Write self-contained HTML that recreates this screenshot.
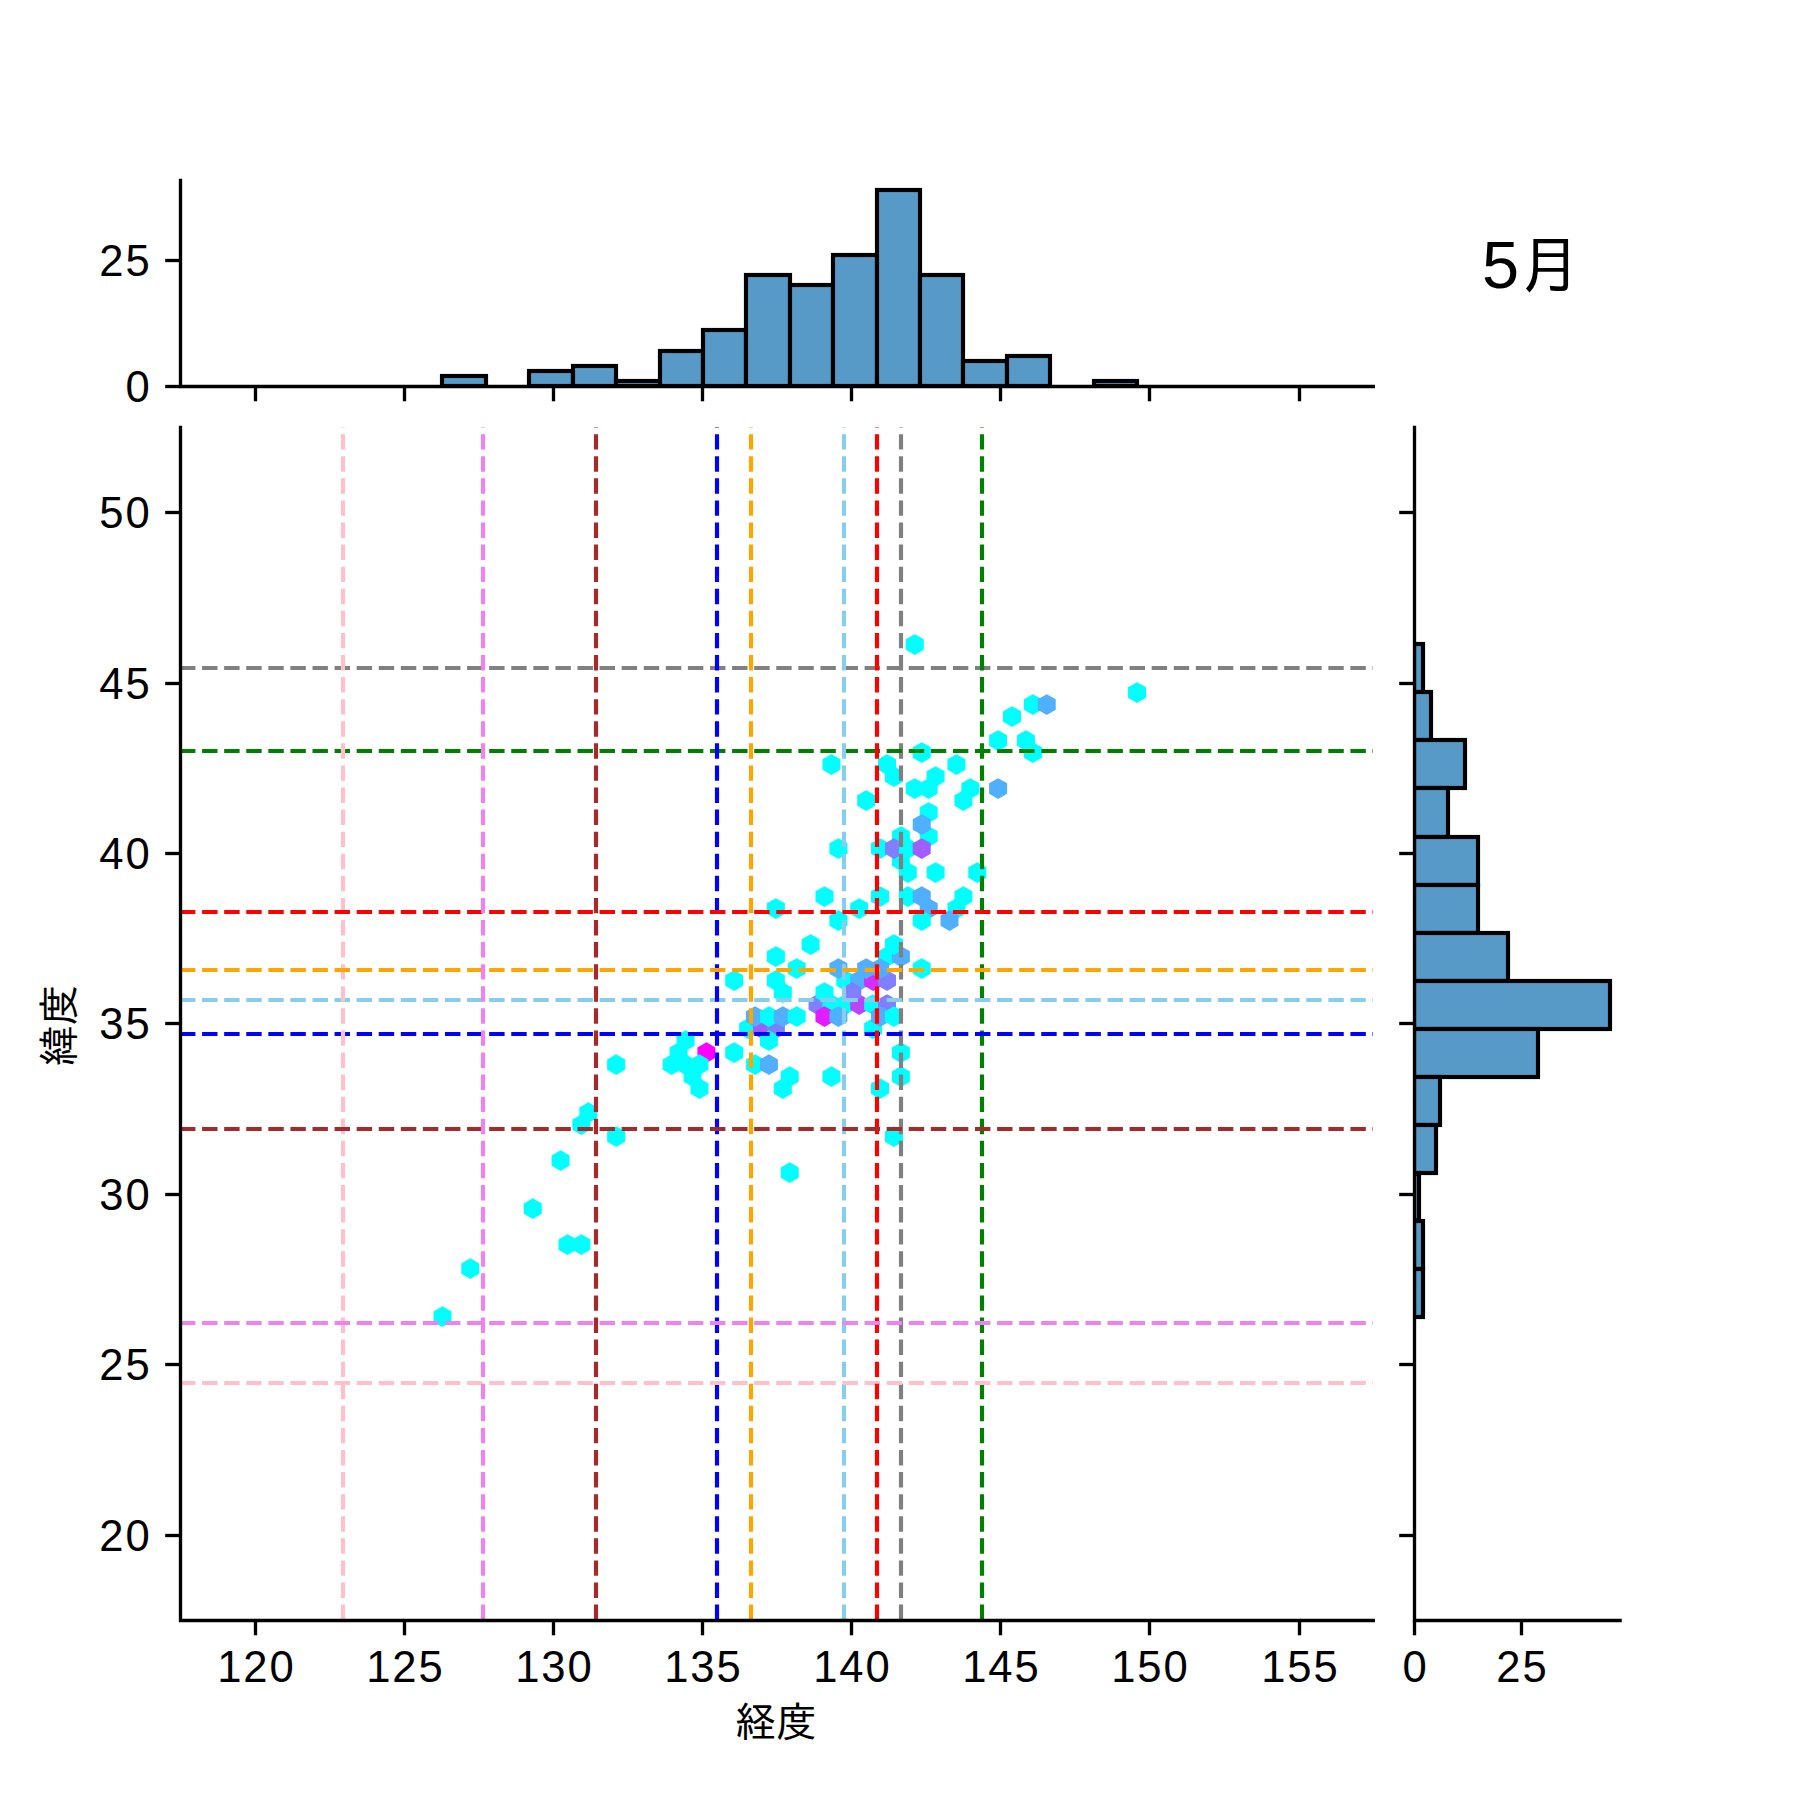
<!DOCTYPE html>
<html lang="ja">
<head>
<meta charset="utf-8">
<title>5月 経度・緯度</title>
<style>
html,body{margin:0;padding:0;background:#fff;}
body{width:1800px;height:1800px;overflow:hidden;font-family:"Liberation Sans", "IPAGothic", sans-serif;}
svg{display:block;}
</style>
</head>
<body>
<svg width="1800" height="1800" viewBox="0 0 1800 1800">
<rect width="1800" height="1800" fill="#fff"/>
<g id="hexbin">
<polygon points="451.50,1321.82 451.50,1311.38 442.50,1306.15 433.50,1311.38 433.50,1321.82 442.50,1327.05" fill="#00ffff"/>
<polygon points="479.28,1273.82 479.28,1263.38 470.28,1258.15 461.28,1263.38 461.28,1273.82 470.28,1279.05" fill="#00ffff"/>
<polygon points="576.52,1249.82 576.52,1239.38 567.52,1234.15 558.52,1239.38 558.52,1249.82 567.52,1255.05" fill="#00ffff"/>
<polygon points="590.41,1249.82 590.41,1239.38 581.41,1234.15 572.41,1239.38 572.41,1249.82 581.41,1255.05" fill="#00ffff"/>
<polygon points="590.41,1129.82 590.41,1119.38 581.41,1114.15 572.41,1119.38 572.41,1129.82 581.41,1135.05" fill="#00ffff"/>
<polygon points="687.64,1057.82 687.64,1047.38 678.64,1042.15 669.64,1047.38 669.64,1057.82 678.64,1063.05" fill="#00ffff"/>
<polygon points="701.53,1081.82 701.53,1071.38 692.53,1066.15 683.53,1071.38 683.53,1081.82 692.53,1087.05" fill="#00ffff"/>
<polygon points="715.42,1057.82 715.42,1047.38 706.42,1042.15 697.42,1047.38 697.42,1057.82 706.42,1063.05" fill="#ff00ff"/>
<polygon points="743.20,1057.82 743.20,1047.38 734.20,1042.15 725.20,1047.38 725.20,1057.82 734.20,1063.05" fill="#00ffff"/>
<polygon points="743.20,985.82 743.20,975.37 734.20,970.15 725.20,975.37 725.20,985.82 734.20,991.05" fill="#00ffff"/>
<polygon points="757.09,1033.82 757.09,1023.37 748.09,1018.15 739.09,1023.37 739.09,1033.82 748.09,1039.05" fill="#00ffff"/>
<polygon points="770.98,1033.82 770.98,1023.37 761.98,1018.15 752.98,1023.37 752.98,1033.82 761.98,1039.05" fill="#a15eff"/>
<polygon points="784.87,1033.82 784.87,1023.37 775.87,1018.15 766.87,1023.37 766.87,1033.82 775.87,1039.05" fill="#807fff"/>
<polygon points="784.87,985.82 784.87,975.37 775.87,970.15 766.87,975.37 766.87,985.82 775.87,991.05" fill="#00ffff"/>
<polygon points="784.87,961.82 784.87,951.37 775.87,946.15 766.87,951.37 766.87,961.82 775.87,967.05" fill="#00ffff"/>
<polygon points="784.87,913.82 784.87,903.37 775.87,898.15 766.87,903.37 766.87,913.82 775.87,919.05" fill="#00ffff"/>
<polygon points="798.76,1177.82 798.76,1167.38 789.76,1162.15 780.76,1167.38 780.76,1177.82 789.76,1183.05" fill="#00ffff"/>
<polygon points="798.76,1081.82 798.76,1071.38 789.76,1066.15 780.76,1071.38 780.76,1081.82 789.76,1087.05" fill="#00ffff"/>
<polygon points="826.55,1009.82 826.55,999.37 817.55,994.15 808.55,999.37 808.55,1009.82 817.55,1015.05" fill="#807fff"/>
<polygon points="840.44,1081.82 840.44,1071.38 831.44,1066.15 822.44,1071.38 822.44,1081.82 831.44,1087.05" fill="#00ffff"/>
<polygon points="840.44,1009.82 840.44,999.37 831.44,994.15 822.44,999.37 822.44,1009.82 831.44,1015.05" fill="#00ffff"/>
<polygon points="840.44,769.82 840.44,759.37 831.44,754.15 822.44,759.37 822.44,769.82 831.44,775.05" fill="#00ffff"/>
<polygon points="854.33,1009.82 854.33,999.37 845.33,994.15 836.33,999.37 836.33,1009.82 845.33,1015.05" fill="#00ffff"/>
<polygon points="854.33,985.82 854.33,975.37 845.33,970.15 836.33,975.37 836.33,985.82 845.33,991.05" fill="#00ffff"/>
<polygon points="868.22,1009.82 868.22,999.37 859.22,994.15 850.22,999.37 850.22,1009.82 859.22,1015.05" fill="#bb44ff"/>
<polygon points="868.22,985.82 868.22,975.37 859.22,970.15 850.22,975.37 850.22,985.82 859.22,991.05" fill="#50afff"/>
<polygon points="868.22,913.82 868.22,903.37 859.22,898.15 850.22,903.37 850.22,913.82 859.22,919.05" fill="#00ffff"/>
<polygon points="882.11,1033.82 882.11,1023.37 873.11,1018.15 864.11,1023.37 864.11,1033.82 873.11,1039.05" fill="#00ffff"/>
<polygon points="882.11,1009.82 882.11,999.37 873.11,994.15 864.11,999.37 864.11,1009.82 873.11,1015.05" fill="#00ffff"/>
<polygon points="882.11,985.82 882.11,975.37 873.11,970.15 864.11,975.37 864.11,985.82 873.11,991.05" fill="#d02fff"/>
<polygon points="896.00,1009.82 896.00,999.37 887.00,994.15 878.00,999.37 878.00,1009.82 887.00,1015.05" fill="#807fff"/>
<polygon points="896.00,985.82 896.00,975.37 887.00,970.15 878.00,975.37 878.00,985.82 887.00,991.05" fill="#807fff"/>
<polygon points="896.00,961.82 896.00,951.37 887.00,946.15 878.00,951.37 878.00,961.82 887.00,967.05" fill="#00ffff"/>
<polygon points="896.00,769.82 896.00,759.37 887.00,754.15 878.00,759.37 878.00,769.82 887.00,775.05" fill="#00ffff"/>
<polygon points="909.89,1081.82 909.89,1071.38 900.89,1066.15 891.89,1071.38 891.89,1081.82 900.89,1087.05" fill="#00ffff"/>
<polygon points="909.89,1057.82 909.89,1047.38 900.89,1042.15 891.89,1047.38 891.89,1057.82 900.89,1063.05" fill="#00ffff"/>
<polygon points="909.89,961.82 909.89,951.37 900.89,946.15 891.89,951.37 891.89,961.82 900.89,967.05" fill="#50afff"/>
<polygon points="909.89,865.82 909.89,855.37 900.89,850.15 891.89,855.37 891.89,865.82 900.89,871.05" fill="#00ffff"/>
<polygon points="909.89,841.82 909.89,831.37 900.89,826.15 891.89,831.37 891.89,841.82 900.89,847.05" fill="#00ffff"/>
<polygon points="923.78,793.82 923.78,783.37 914.78,778.15 905.78,783.37 905.78,793.82 914.78,799.05" fill="#00ffff"/>
<polygon points="923.78,649.82 923.78,639.37 914.78,634.15 905.78,639.37 905.78,649.82 914.78,655.05" fill="#00ffff"/>
<polygon points="937.67,913.82 937.67,903.37 928.67,898.15 919.67,903.37 919.67,913.82 928.67,919.05" fill="#50afff"/>
<polygon points="937.67,841.82 937.67,831.37 928.67,826.15 919.67,831.37 919.67,841.82 928.67,847.05" fill="#00ffff"/>
<polygon points="937.67,817.82 937.67,807.37 928.67,802.15 919.67,807.37 919.67,817.82 928.67,823.05" fill="#00ffff"/>
<polygon points="937.67,793.82 937.67,783.37 928.67,778.15 919.67,783.37 919.67,793.82 928.67,799.05" fill="#00ffff"/>
<polygon points="965.45,913.82 965.45,903.37 956.45,898.15 947.45,903.37 947.45,913.82 956.45,919.05" fill="#00ffff"/>
<polygon points="965.45,769.82 965.45,759.37 956.45,754.15 947.45,759.37 947.45,769.82 956.45,775.05" fill="#00ffff"/>
<polygon points="979.34,793.82 979.34,783.37 970.34,778.15 961.34,783.37 961.34,793.82 970.34,799.05" fill="#00ffff"/>
<polygon points="1007.12,793.82 1007.12,783.37 998.12,778.15 989.12,783.37 989.12,793.82 998.12,799.05" fill="#50afff"/>
<polygon points="1007.12,745.82 1007.12,735.37 998.12,730.15 989.12,735.37 989.12,745.82 998.12,751.05" fill="#00ffff"/>
<polygon points="1021.01,721.82 1021.01,711.37 1012.01,706.15 1003.01,711.37 1003.01,721.82 1012.01,727.05" fill="#00ffff"/>
<polygon points="1034.91,745.82 1034.91,735.37 1025.91,730.15 1016.91,735.37 1016.91,745.82 1025.91,751.05" fill="#00ffff"/>
<polygon points="1146.03,697.82 1146.03,687.37 1137.03,682.15 1128.03,687.37 1128.03,697.82 1137.03,703.05" fill="#00ffff"/>
<polygon points="541.79,1213.82 541.79,1203.38 532.79,1198.15 523.79,1203.38 523.79,1213.82 532.79,1219.05" fill="#00ffff"/>
<polygon points="569.57,1165.82 569.57,1155.38 560.57,1150.15 551.57,1155.38 551.57,1165.82 560.57,1171.05" fill="#00ffff"/>
<polygon points="597.35,1117.82 597.35,1107.38 588.35,1102.15 579.35,1107.38 579.35,1117.82 588.35,1123.05" fill="#00ffff"/>
<polygon points="625.13,1141.82 625.13,1131.38 616.13,1126.15 607.13,1131.38 607.13,1141.82 616.13,1147.05" fill="#00ffff"/>
<polygon points="625.13,1069.82 625.13,1059.38 616.13,1054.15 607.13,1059.38 607.13,1069.82 616.13,1075.05" fill="#00ffff"/>
<polygon points="680.69,1069.82 680.69,1059.38 671.69,1054.15 662.69,1059.38 662.69,1069.82 671.69,1075.05" fill="#00ffff"/>
<polygon points="694.59,1069.82 694.59,1059.38 685.59,1054.15 676.59,1059.38 676.59,1069.82 685.59,1075.05" fill="#00ffff"/>
<polygon points="694.59,1045.82 694.59,1035.38 685.59,1030.15 676.59,1035.38 676.59,1045.82 685.59,1051.05" fill="#00ffff"/>
<polygon points="708.48,1093.82 708.48,1083.38 699.48,1078.15 690.48,1083.38 690.48,1093.82 699.48,1099.05" fill="#00ffff"/>
<polygon points="708.48,1069.82 708.48,1059.38 699.48,1054.15 690.48,1059.38 690.48,1069.82 699.48,1075.05" fill="#00ffff"/>
<polygon points="764.04,1069.82 764.04,1059.38 755.04,1054.15 746.04,1059.38 746.04,1069.82 755.04,1075.05" fill="#00ffff"/>
<polygon points="764.04,1021.82 764.04,1011.37 755.04,1006.15 746.04,1011.37 746.04,1021.82 755.04,1027.05" fill="#50afff"/>
<polygon points="777.93,1069.82 777.93,1059.38 768.93,1054.15 759.93,1059.38 759.93,1069.82 768.93,1075.05" fill="#50afff"/>
<polygon points="777.93,1045.82 777.93,1035.38 768.93,1030.15 759.93,1035.38 759.93,1045.82 768.93,1051.05" fill="#00ffff"/>
<polygon points="777.93,1021.82 777.93,1011.37 768.93,1006.15 759.93,1011.37 759.93,1021.82 768.93,1027.05" fill="#00ffff"/>
<polygon points="791.82,1093.82 791.82,1083.38 782.82,1078.15 773.82,1083.38 773.82,1093.82 782.82,1099.05" fill="#00ffff"/>
<polygon points="791.82,1021.82 791.82,1011.37 782.82,1006.15 773.82,1011.37 773.82,1021.82 782.82,1027.05" fill="#50afff"/>
<polygon points="791.82,997.82 791.82,987.37 782.82,982.15 773.82,987.37 773.82,997.82 782.82,1003.05" fill="#00ffff"/>
<polygon points="805.71,1021.82 805.71,1011.37 796.71,1006.15 787.71,1011.37 787.71,1021.82 796.71,1027.05" fill="#00ffff"/>
<polygon points="805.71,973.82 805.71,963.37 796.71,958.15 787.71,963.37 787.71,973.82 796.71,979.05" fill="#00ffff"/>
<polygon points="819.60,949.82 819.60,939.37 810.60,934.15 801.60,939.37 801.60,949.82 810.60,955.05" fill="#00ffff"/>
<polygon points="833.49,1021.82 833.49,1011.37 824.49,1006.15 815.49,1011.37 815.49,1021.82 824.49,1027.05" fill="#e21dff"/>
<polygon points="833.49,997.82 833.49,987.37 824.49,982.15 815.49,987.37 815.49,997.82 824.49,1003.05" fill="#00ffff"/>
<polygon points="833.49,901.82 833.49,891.37 824.49,886.15 815.49,891.37 815.49,901.82 824.49,907.05" fill="#00ffff"/>
<polygon points="847.38,1021.82 847.38,1011.37 838.38,1006.15 829.38,1011.37 829.38,1021.82 838.38,1027.05" fill="#50afff"/>
<polygon points="847.38,973.82 847.38,963.37 838.38,958.15 829.38,963.37 829.38,973.82 838.38,979.05" fill="#50afff"/>
<polygon points="847.38,925.82 847.38,915.37 838.38,910.15 829.38,915.37 829.38,925.82 838.38,931.05" fill="#00ffff"/>
<polygon points="847.38,853.82 847.38,843.37 838.38,838.15 829.38,843.37 829.38,853.82 838.38,859.05" fill="#00ffff"/>
<polygon points="861.27,997.82 861.27,987.37 852.27,982.15 843.27,987.37 843.27,997.82 852.27,1003.05" fill="#807fff"/>
<polygon points="875.16,973.82 875.16,963.37 866.16,958.15 857.16,963.37 857.16,973.82 866.16,979.05" fill="#50afff"/>
<polygon points="875.16,805.82 875.16,795.37 866.16,790.15 857.16,795.37 857.16,805.82 866.16,811.05" fill="#00ffff"/>
<polygon points="889.05,1093.82 889.05,1083.38 880.05,1078.15 871.05,1083.38 871.05,1093.82 880.05,1099.05" fill="#00ffff"/>
<polygon points="889.05,1021.82 889.05,1011.37 880.05,1006.15 871.05,1011.37 871.05,1021.82 880.05,1027.05" fill="#50afff"/>
<polygon points="889.05,973.82 889.05,963.37 880.05,958.15 871.05,963.37 871.05,973.82 880.05,979.05" fill="#50afff"/>
<polygon points="889.05,901.82 889.05,891.37 880.05,886.15 871.05,891.37 871.05,901.82 880.05,907.05" fill="#00ffff"/>
<polygon points="889.05,853.82 889.05,843.37 880.05,838.15 871.05,843.37 871.05,853.82 880.05,859.05" fill="#00ffff"/>
<polygon points="902.94,1141.82 902.94,1131.38 893.94,1126.15 884.94,1131.38 884.94,1141.82 893.94,1147.05" fill="#00ffff"/>
<polygon points="902.94,1021.82 902.94,1011.37 893.94,1006.15 884.94,1011.37 884.94,1021.82 893.94,1027.05" fill="#00ffff"/>
<polygon points="902.94,949.82 902.94,939.37 893.94,934.15 884.94,939.37 884.94,949.82 893.94,955.05" fill="#00ffff"/>
<polygon points="902.94,853.82 902.94,843.37 893.94,838.15 884.94,843.37 884.94,853.82 893.94,859.05" fill="#807fff"/>
<polygon points="902.94,781.82 902.94,771.37 893.94,766.15 884.94,771.37 884.94,781.82 893.94,787.05" fill="#00ffff"/>
<polygon points="916.84,901.82 916.84,891.37 907.84,886.15 898.84,891.37 898.84,901.82 907.84,907.05" fill="#00ffff"/>
<polygon points="916.84,877.82 916.84,867.37 907.84,862.15 898.84,867.37 898.84,877.82 907.84,883.05" fill="#00ffff"/>
<polygon points="916.84,853.82 916.84,843.37 907.84,838.15 898.84,843.37 898.84,853.82 907.84,859.05" fill="#00ffff"/>
<polygon points="930.73,973.82 930.73,963.37 921.73,958.15 912.73,963.37 912.73,973.82 921.73,979.05" fill="#00ffff"/>
<polygon points="930.73,925.82 930.73,915.37 921.73,910.15 912.73,915.37 912.73,925.82 921.73,931.05" fill="#00ffff"/>
<polygon points="930.73,901.82 930.73,891.37 921.73,886.15 912.73,891.37 912.73,901.82 921.73,907.05" fill="#50afff"/>
<polygon points="930.73,853.82 930.73,843.37 921.73,838.15 912.73,843.37 912.73,853.82 921.73,859.05" fill="#a15eff"/>
<polygon points="930.73,829.82 930.73,819.37 921.73,814.15 912.73,819.37 912.73,829.82 921.73,835.05" fill="#50afff"/>
<polygon points="930.73,757.82 930.73,747.37 921.73,742.15 912.73,747.37 912.73,757.82 921.73,763.05" fill="#00ffff"/>
<polygon points="944.62,877.82 944.62,867.37 935.62,862.15 926.62,867.37 926.62,877.82 935.62,883.05" fill="#00ffff"/>
<polygon points="944.62,781.82 944.62,771.37 935.62,766.15 926.62,771.37 926.62,781.82 935.62,787.05" fill="#00ffff"/>
<polygon points="958.51,925.82 958.51,915.37 949.51,910.15 940.51,915.37 940.51,925.82 949.51,931.05" fill="#50afff"/>
<polygon points="972.40,901.82 972.40,891.37 963.40,886.15 954.40,891.37 954.40,901.82 963.40,907.05" fill="#00ffff"/>
<polygon points="972.40,805.82 972.40,795.37 963.40,790.15 954.40,795.37 954.40,805.82 963.40,811.05" fill="#00ffff"/>
<polygon points="986.29,877.82 986.29,867.37 977.29,862.15 968.29,867.37 968.29,877.82 977.29,883.05" fill="#00ffff"/>
<polygon points="1041.85,757.82 1041.85,747.37 1032.85,742.15 1023.85,747.37 1023.85,757.82 1032.85,763.05" fill="#00ffff"/>
<polygon points="1041.85,709.82 1041.85,699.37 1032.85,694.15 1023.85,699.37 1023.85,709.82 1032.85,715.05" fill="#00ffff"/>
<polygon points="1055.74,709.82 1055.74,699.37 1046.74,694.15 1037.74,699.37 1037.74,709.82 1046.74,715.05" fill="#50afff"/>
</g>
<g id="reflines" fill="none" stroke-width="4.17" stroke-dasharray="15.4167 6.6667">
<line x1="901" y1="1620" x2="901" y2="427" stroke="#808080"/>
<line x1="180" y1="668" x2="1373" y2="668" stroke="#808080"/>
<line x1="982" y1="1620" x2="982" y2="427" stroke="#008000"/>
<line x1="180" y1="751" x2="1373" y2="751" stroke="#008000"/>
<line x1="844" y1="1620" x2="844" y2="427" stroke="#87ceeb"/>
<line x1="180" y1="1000" x2="1373" y2="1000" stroke="#87ceeb"/>
<line x1="717" y1="1620" x2="717" y2="427" stroke="#0000ff"/>
<line x1="180" y1="1034" x2="1373" y2="1034" stroke="#0000ff"/>
<line x1="343" y1="1620" x2="343" y2="427" stroke="#ffc0cb"/>
<line x1="180" y1="1383" x2="1373" y2="1383" stroke="#ffc0cb"/>
<line x1="751" y1="1620" x2="751" y2="427" stroke="#ffa500"/>
<line x1="180" y1="970" x2="1373" y2="970" stroke="#ffa500"/>
<line x1="877" y1="1620" x2="877" y2="427" stroke="#ff0000"/>
<line x1="180" y1="912" x2="1373" y2="912" stroke="#ff0000"/>
<line x1="596" y1="1620" x2="596" y2="427" stroke="#a52a2a"/>
<line x1="180" y1="1129" x2="1373" y2="1129" stroke="#a52a2a"/>
<line x1="483" y1="1620" x2="483" y2="427" stroke="#ee82ee"/>
<line x1="180" y1="1323" x2="1373" y2="1323" stroke="#ee82ee"/>
</g>
<clipPath id="clipTop"><rect x="180" y="180" width="1193" height="206"/></clipPath>
<clipPath id="clipRight"><rect x="1414" y="427" width="206" height="1193"/></clipPath>
<g id="hist-top" clip-path="url(#clipTop)" fill="#5799c7" stroke="#000" stroke-width="4.17" stroke-linejoin="miter">
<rect x="442" y="376" width="44" height="10"/>
<rect x="486" y="386" width="43" height="0"/>
<rect x="529" y="371" width="44" height="15"/>
<rect x="573" y="366" width="43" height="20"/>
<rect x="616" y="381" width="44" height="5"/>
<rect x="660" y="351" width="43" height="35"/>
<rect x="703" y="330" width="43" height="56"/>
<rect x="746" y="275" width="44" height="111"/>
<rect x="790" y="285" width="43" height="101"/>
<rect x="833" y="255" width="44" height="131"/>
<rect x="877" y="190" width="43" height="196"/>
<rect x="920" y="275" width="43" height="111"/>
<rect x="963" y="361" width="44" height="25"/>
<rect x="1007" y="356" width="43" height="30"/>
<rect x="1050" y="386" width="44" height="0"/>
<rect x="1094" y="381" width="43" height="5"/>
</g>
<g id="hist-right" clip-path="url(#clipRight)" fill="#5799c7" stroke="#000" stroke-width="4.17" stroke-linejoin="miter">
<rect x="1414" y="644" width="9" height="48"/>
<rect x="1414" y="692" width="17" height="48"/>
<rect x="1414" y="740" width="51" height="48"/>
<rect x="1414" y="788" width="34" height="49"/>
<rect x="1414" y="837" width="64" height="48"/>
<rect x="1414" y="885" width="64" height="48"/>
<rect x="1414" y="933" width="94" height="48"/>
<rect x="1414" y="981" width="196" height="48"/>
<rect x="1414" y="1029" width="124" height="48"/>
<rect x="1414" y="1077" width="26" height="48"/>
<rect x="1414" y="1125" width="22" height="48"/>
<rect x="1414" y="1173" width="5" height="48"/>
<rect x="1414" y="1221" width="9" height="48"/>
<rect x="1414" y="1269" width="9" height="48"/>
</g>
<g id="spines" stroke="#000" stroke-width="3.33" fill="none" stroke-linecap="square">
<path d="M180.5 427.5V1620.5H1373.3"/>
<path d="M180.5 180.5V386.5H1373.3"/>
<path d="M1414.5 427.5V1620.5H1620.1"/>
</g>
<g id="ticks" stroke="#000" stroke-width="3.33">
<line x1="255.5" y1="1620.5" x2="255.5" y2="1635.3"/>
<line x1="255.5" y1="386.5" x2="255.5" y2="401.3"/>
<line x1="404.5" y1="1620.5" x2="404.5" y2="1635.3"/>
<line x1="404.5" y1="386.5" x2="404.5" y2="401.3"/>
<line x1="553.5" y1="1620.5" x2="553.5" y2="1635.3"/>
<line x1="553.5" y1="386.5" x2="553.5" y2="401.3"/>
<line x1="702.5" y1="1620.5" x2="702.5" y2="1635.3"/>
<line x1="702.5" y1="386.5" x2="702.5" y2="401.3"/>
<line x1="851.5" y1="1620.5" x2="851.5" y2="1635.3"/>
<line x1="851.5" y1="386.5" x2="851.5" y2="401.3"/>
<line x1="1000.5" y1="1620.5" x2="1000.5" y2="1635.3"/>
<line x1="1000.5" y1="386.5" x2="1000.5" y2="401.3"/>
<line x1="1149.5" y1="1620.5" x2="1149.5" y2="1635.3"/>
<line x1="1149.5" y1="386.5" x2="1149.5" y2="401.3"/>
<line x1="1299.5" y1="1620.5" x2="1299.5" y2="1635.3"/>
<line x1="1299.5" y1="386.5" x2="1299.5" y2="401.3"/>
<line x1="180.5" y1="512.5" x2="165.2" y2="512.5"/>
<line x1="1414.5" y1="512.5" x2="1399.2" y2="512.5"/>
<line x1="180.5" y1="683.5" x2="165.2" y2="683.5"/>
<line x1="1414.5" y1="683.5" x2="1399.2" y2="683.5"/>
<line x1="180.5" y1="853.5" x2="165.2" y2="853.5"/>
<line x1="1414.5" y1="853.5" x2="1399.2" y2="853.5"/>
<line x1="180.5" y1="1023.5" x2="165.2" y2="1023.5"/>
<line x1="1414.5" y1="1023.5" x2="1399.2" y2="1023.5"/>
<line x1="180.5" y1="1194.5" x2="165.2" y2="1194.5"/>
<line x1="1414.5" y1="1194.5" x2="1399.2" y2="1194.5"/>
<line x1="180.5" y1="1364.5" x2="165.2" y2="1364.5"/>
<line x1="1414.5" y1="1364.5" x2="1399.2" y2="1364.5"/>
<line x1="180.5" y1="1535.5" x2="165.2" y2="1535.5"/>
<line x1="1414.5" y1="1535.5" x2="1399.2" y2="1535.5"/>
<line x1="180.5" y1="386.5" x2="165.2" y2="386.5"/>
<line x1="180.5" y1="260.5" x2="165.2" y2="260.5"/>
<line x1="1414.5" y1="1620.5" x2="1414.5" y2="1635.3"/>
<line x1="1521.5" y1="1620.5" x2="1521.5" y2="1635.3"/>
</g>
<g id="ticklabels" font-family='"Liberation Sans", "IPAGothic", sans-serif' font-size="43.6" letter-spacing="2.0" fill="#000">
<text x="256.50" y="1682.4" text-anchor="middle">120</text>
<text x="405.50" y="1682.4" text-anchor="middle">125</text>
<text x="554.50" y="1682.4" text-anchor="middle">130</text>
<text x="703.50" y="1682.4" text-anchor="middle">135</text>
<text x="852.50" y="1682.4" text-anchor="middle">140</text>
<text x="1001.50" y="1682.4" text-anchor="middle">145</text>
<text x="1150.50" y="1682.4" text-anchor="middle">150</text>
<text x="1300.50" y="1682.4" text-anchor="middle">155</text>
<text x="151.80" y="528.20" text-anchor="end">50</text>
<text x="151.80" y="699.20" text-anchor="end">45</text>
<text x="151.80" y="869.20" text-anchor="end">40</text>
<text x="151.80" y="1039.20" text-anchor="end">35</text>
<text x="151.80" y="1210.20" text-anchor="end">30</text>
<text x="151.80" y="1380.20" text-anchor="end">25</text>
<text x="151.80" y="1551.20" text-anchor="end">20</text>
<text x="151.80" y="402.20" text-anchor="end">0</text>
<text x="151.80" y="276.20" text-anchor="end">25</text>
<text x="1415.50" y="1682.4" text-anchor="middle">0</text>
<text x="1522.50" y="1682.4" text-anchor="middle">25</text>
</g>
<g id="labels" font-family='"Liberation Sans", "IPAGothic", sans-serif' fill="#000">
<text x="776.3" y="1736.5" font-size="41.67" text-anchor="middle">経度</text>
<text transform="translate(74.3 1025.2) rotate(-90)" font-size="41.67" text-anchor="middle">緯度</text>
<text y="287.7"><tspan x="1481.9" font-size="66.7">5</tspan><tspan x="1518.5" y="287.7" font-size="62.5">月</tspan></text>
</g>
</svg>
</body>
</html>
